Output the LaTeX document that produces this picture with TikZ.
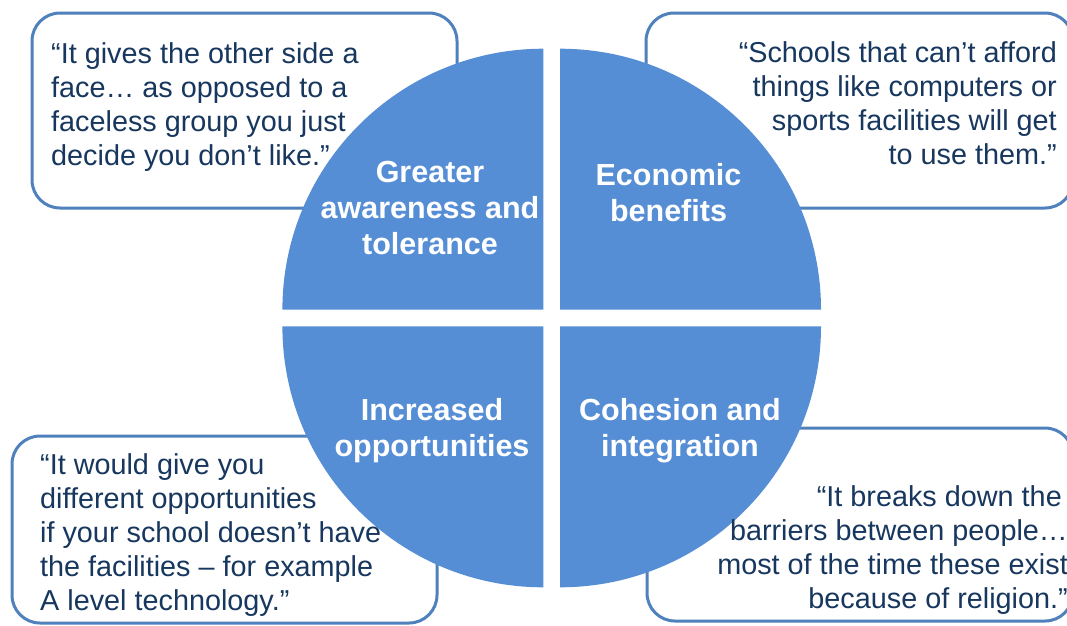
\documentclass[tikz,border=0pt]{standalone}
\usepackage{fontspec}
\setmainfont{Liberation Sans}
\definecolor{pie}{RGB}{85,142,213}
\definecolor{frame}{RGB}{79,129,189}
\definecolor{ink}{RGB}{23,55,94}
\begin{document}
\begin{tikzpicture}[x=1pt,y=-1pt,
  quotebox/.style={draw=frame, line width=3pt, rounded corners=28pt, fill=white},
  quotetext/.style={text=ink, inner sep=0pt, font=\fontsize{28.8}{34}\selectfont},
  sectorlabel/.style={text=white, inner sep=0pt, align=center, anchor=north, font=\bfseries\fontsize{30.5}{36}\selectfont},
  quadrant/.style={fill=pie}]
\useasboundingbox (0,0) rectangle (1067,625);
\clip (0,0) rectangle (1067,625);
\fill[white] (0,0) rectangle (1067,625);
% quote frames
\draw[quotebox] (32,13) rectangle (457,208);
\draw[quotebox] (646,13) rectangle (1073,208);
\draw[quotebox] (12,436) rectangle (437,623);
\draw[quotebox] (647,428) rectangle (1073,621);
% quadrants
\fill[quadrant] (543.4,309.7) -- (282.4,309.7) arc[start angle=180, end angle=270, radius=261] -- cycle;
\fill[quadrant] (560,309.7) -- (821,309.7) arc[start angle=0, end angle=-90, radius=261] -- cycle;
\fill[quadrant] (543.4,326.3) -- (282.4,326.3) arc[start angle=180, end angle=90, radius=261] -- cycle;
\fill[quadrant] (560,326.3) -- (821,326.3) arc[start angle=0, end angle=90, radius=261] -- cycle;
% labels
\node[sectorlabel] (ltl) at (430,156.8) {\strut Greater\\awareness and\\tolerance};
\node[sectorlabel] (ltr) at (668.5,159.8) {\strut Economic\\benefits};
\node[sectorlabel] (lbl) at (432,394.8) {\strut Increased\\opportunities};
\node[sectorlabel] (lbr) at (680,394.8) {\strut Cohesion and\\integration};
% quotes
\node[quotetext, anchor=north west, align=left] (qtl) at (51,39.2)
  {\strut “It gives the other side a\\face… as opposed to a\\faceless group you just\\decide you don’t like.”};
\node[quotetext, anchor=north east, align=right] (qtr) at (1057,38.2)
  {\strut “Schools that can’t afford\\things like computers or\\sports facilities will get\\to use them.”};
\node[quotetext, anchor=north west, align=left] (qbl) at (40,450.2)
  {\strut “It would give you\\different opportunities\\if your school doesn’t have\\the facilities – for example\\A level technology.”};
\node[quotetext, anchor=north east, align=right] (qbr) at (1068,482.2)
  {\strut “It breaks down the\hspace*{6pt}\\barriers between people…\\most of the time these exist\\because of religion.”};
\end{tikzpicture}
\end{document}
